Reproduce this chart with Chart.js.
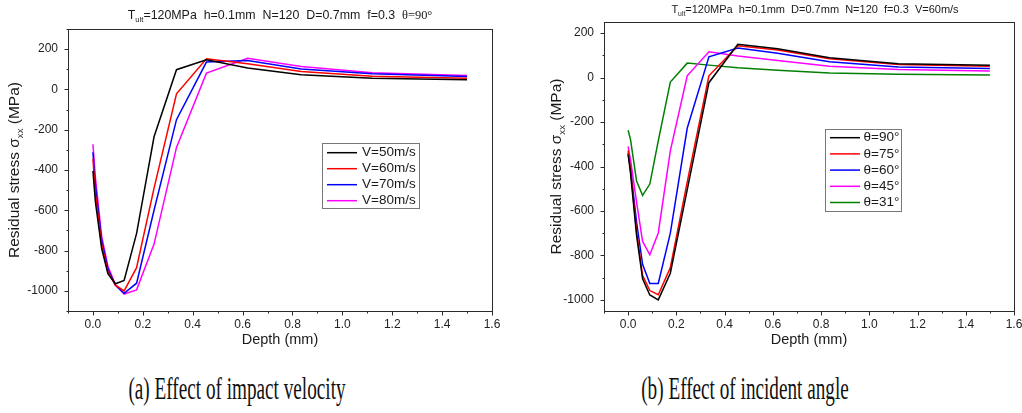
<!DOCTYPE html>
<html>
<head>
<meta charset="utf-8">
<title>Residual stress vs depth</title>
<script src="https://cdn.jsdelivr.net/npm/chart.js@4.4.0/dist/chart.umd.min.js"></script>
<style>
  body { margin: 0; background: #fff; }
  #wrap { position: relative; width: 1022px; height: 413px; overflow: hidden; background: #fff; }
  #chartA { position: absolute; left: 0; top: 0; }
  #chartB { position: absolute; left: 512px; top: 0; }
  .caption {
    position: absolute; top: 372px; line-height: 1;
    font-family: "Liberation Serif", "Times New Roman", serif; font-size: 32px; color: #111;
    white-space: nowrap; transform: translateX(-50%) scaleX(0.6);
  }
</style>
</head>
<body>
<div id="wrap">
  <canvas id="chartA" width="512" height="360"></canvas>
  <canvas id="chartB" width="510" height="360"></canvas>
  <div class="caption" style="left:237px">(a) Effect of impact velocity</div>
  <div class="caption" style="left:745px">(b) Effect of incident angle</div>
</div>
<script>
// depth of each sampling point (mm), shared by all curves
const depth = [0, 0.01, 0.035, 0.06, 0.09, 0.125, 0.175, 0.245, 0.335, 0.455, 0.62, 0.835, 1.12, 1.5];

// (a) impact velocity, residual stress in MPa
const velocityLabels = ['V=50m/s', 'V=60m/s', 'V=70m/s', 'V=80m/s'];
const stressV50 = [-405, -560, -790, -915, -965, -948, -715, -235, 98, 147, 106, 73, 56, 48];
const stressV60 = [-345, -520, -770, -905, -972, -1000, -885, -490, -22, 152, 127, 89, 66, 55];
const stressV70 = [-312, -480, -750, -890, -972, -1012, -962, -600, -150, 136, 144, 101, 78, 64];
const stressV80 = [-272, -440, -730, -878, -968, -1016, -995, -768, -288, 81, 155, 114, 83, 69];

// (b) incident angle, residual stress in MPa
const angleLabels = ['θ=90°', 'θ=75°', 'θ=60°', 'θ=45°', 'θ=31°'];
const stressA90 = [-346, -430, -710, -905, -978, -1000, -880, -505, -23, 150, 130, 89, 62, 55];
const stressA75 = [-328, -415, -690, -890, -958, -977, -855, -470, 8, 143, 124, 85, 59, 51];
const stressA60 = [-340, -410, -650, -840, -926, -926, -700, -228, 93, 133, 109, 71, 48, 41];
const stressA45 = [-309, -370, -560, -737, -797, -699, -330, 8, 116, 97, 77, 51, 36, 30];
const stressA31 = [-237, -279, -465, -530, -479, -285, -20, 65, 56, 44, 33, 21, 15, 12];

// labelled ticks
const xTicks = [0, 0.2, 0.4, 0.6, 0.8, 1.0, 1.2, 1.4, 1.6];
const yTicks = [-1000, -800, -600, -400, -200, 0, 200];

const lineColors = ['#000000', '#ff0000', '#0000ff', '#ff00ff', '#008000'];
const sans = '"Liberation Sans", Arial, sans-serif';
const serif = '"Liberation Serif", "Times New Roman", serif';

function toPoints(ys) {
  return depth.map((d, i) => ({ x: d, y: ys[i] }));
}

function makeDatasets(labels, series) {
  return series.map((ys, i) => ({
    label: labels[i],
    data: toPoints(ys),
    borderColor: lineColors[i],
    borderWidth: 1.5,
    pointRadius: 0,
    tension: 0,
    fill: false
  }));
}

// text made of runs, some subscripted or in serif
function drawRuns(ctx, runs, cx, y, size) {
  const fontFor = r => (r.sub ? size * 0.62 : size) + 'px ' + (r.serif ? serif : sans);
  let w = 0;
  runs.forEach(r => { ctx.font = fontFor(r); w += ctx.measureText(r.text).width; });
  let x = cx - w / 2;
  ctx.textAlign = 'left';
  ctx.textBaseline = 'alphabetic';
  runs.forEach(r => {
    ctx.font = fontFor(r);
    ctx.fillText(r.text, x, r.sub ? y + size * 0.28 : y);
    x += ctx.measureText(r.text).width;
  });
}

const yTitleRuns = [{ text: 'Residual stress σ' }, { text: 'xx', sub: true }, { text: ' (MPa)' }];

const figurePlugin = {
  id: 'figure',
  afterDraw(chart, args, opts) {
    const ctx = chart.ctx;
    const area = chart.chartArea;
    const xs = chart.scales.x, ys = chart.scales.y;
    ctx.save();

    // box frame
    ctx.strokeStyle = '#2a2a2a';
    ctx.lineWidth = 1;
    const l = Math.round(area.left) + 0.5, r = Math.round(area.right) + 0.5;
    const t = Math.round(area.top) + 0.5, b = Math.round(area.bottom) + 0.5;
    ctx.strokeRect(l, t, r - l, b - t);

    // outward ticks, minor between labelled ones
    ctx.beginPath();
    for (let k = Math.round(xs.min * 10); k <= Math.round(xs.max * 10); k++) {
      const v = k / 10;
      const major = xTicks.some(tv => Math.abs(tv - v) < 1e-6);
      const px = Math.round(xs.getPixelForValue(v)) + 0.5;
      ctx.moveTo(px, b);
      ctx.lineTo(px, b + (major ? 4 : 2));
    }
    for (let v = Math.ceil(ys.min / 100) * 100; v <= ys.max; v += 100) {
      const major = yTicks.includes(v);
      const py = Math.round(ys.getPixelForValue(v)) + 0.5;
      ctx.moveTo(l, py);
      ctx.lineTo(l - (major ? 4 : 2), py);
    }
    ctx.stroke();

    ctx.fillStyle = '#1a1a1a';
    // title with subscript
    drawRuns(ctx, opts.title, opts.titleX, opts.titleY, opts.titleSize);

    // axis titles
    ctx.font = '14.5px ' + sans;
    ctx.textAlign = 'center';
    ctx.textBaseline = 'middle';
    ctx.fillText('Depth (mm)', (area.left + area.right) / 2, opts.xTitleY);

    ctx.save();
    ctx.translate(opts.yTitleX, (area.top + area.bottom) / 2);
    ctx.rotate(-Math.PI / 2);
    drawRuns(ctx, yTitleRuns, 0, 5.5, 15.5);
    ctx.restore();

    // legend box
    const lg = opts.legend;
    ctx.strokeStyle = '#777';
    ctx.lineWidth = 1;
    ctx.strokeRect(lg.x + 0.5, lg.y + 0.5, lg.w, lg.h);
    ctx.font = '13.5px ' + sans;
    ctx.textAlign = 'left';
    ctx.textBaseline = 'middle';
    chart.data.datasets.forEach((ds, i) => {
      const yy = lg.y + lg.first + i * lg.row;
      ctx.strokeStyle = ds.borderColor;
      ctx.lineWidth = 1.5;
      ctx.beginPath();
      ctx.moveTo(lg.x + 5, yy);
      ctx.lineTo(lg.x + 35, yy);
      ctx.stroke();
      ctx.fillStyle = '#1a1a1a';
      ctx.fillText(ds.label, lg.x + lg.textX, yy);
    });
    ctx.restore();
  }
};

function makeChart(id, labels, series, fig) {
  return new Chart(document.getElementById(id), {
    type: 'line',
    data: { datasets: makeDatasets(labels, series) },
    options: {
      responsive: false,
      animation: false,
      devicePixelRatio: 1,
      layout: { padding: fig.padding },
      plugins: {
        legend: { display: false },
        tooltip: { enabled: false },
        figure: fig
      },
      scales: {
        x: {
          type: 'linear',
          min: -0.1,
          max: 1.6,
          grid: { display: false, drawTicks: false },
          border: { display: false },
          afterBuildTicks: s => { s.ticks = xTicks.map(v => ({ value: v })); },
          afterFit: s => { s.height = fig.xAxisHeight; s.paddingLeft = 0; s.paddingRight = 0; },
          ticks: {
            autoSkip: false, maxRotation: 0, padding: 6, color: '#222',
            font: { family: sans, size: 12 },
            callback: v => Number(v).toFixed(1)
          }
        },
        y: {
          type: 'linear',
          min: fig.yMin,
          max: fig.yMax,
          grid: { display: false, drawTicks: false },
          border: { display: false },
          afterBuildTicks: s => { s.ticks = yTicks.map(v => ({ value: v })); },
          afterFit: s => { s.width = fig.yAxisWidth; s.paddingTop = 0; s.paddingBottom = 0; },
          ticks: {
            autoSkip: false, padding: 10, color: '#222',
            font: { family: sans, size: 12 },
            callback: v => String(v)
          }
        }
      }
    },
    plugins: [figurePlugin]
  });
}

makeChart('chartA', velocityLabels, [stressV50, stressV60, stressV70, stressV80], {
  padding: { left: 0, top: 29, right: 20, bottom: 0 },
  yAxisWidth: 68, xAxisHeight: 49,
  yMin: -1100, yMax: 300,
  title: [{ text: 'T' }, { text: 'ult', sub: true }, { text: '=120MPa  h=0.1mm  N=120  D=0.7mm  f=0.3  ' }, { text: 'θ=90°', serif: true }],
  titleX: 280, titleY: 18.5, titleSize: 12.4,
  xTitleY: 340, yTitleX: 13,
  legend: { x: 322, y: 143, w: 97, h: 65, first: 9.7, row: 16, textX: 40 }
});

makeChart('chartB', angleLabels, [stressA90, stressA75, stressA60, stressA45, stressA31], {
  padding: { left: 0, top: 22, right: 8, bottom: 0 },
  yAxisWidth: 92, xAxisHeight: 49,
  yMin: -1050, yMax: 250,
  title: [{ text: 'T' }, { text: 'ult', sub: true }, { text: '=120MPa  h=0.1mm  D=0.7mm  N=120  f=0.3  V=60m/s' }],
  titleX: 303, titleY: 12.5, titleSize: 11,
  xTitleY: 340, yTitleX: 43,
  legend: { x: 313, y: 129, w: 76, h: 82, first: 8.7, row: 16.2, textX: 38.5 }
});
</script>
</body>
</html>
